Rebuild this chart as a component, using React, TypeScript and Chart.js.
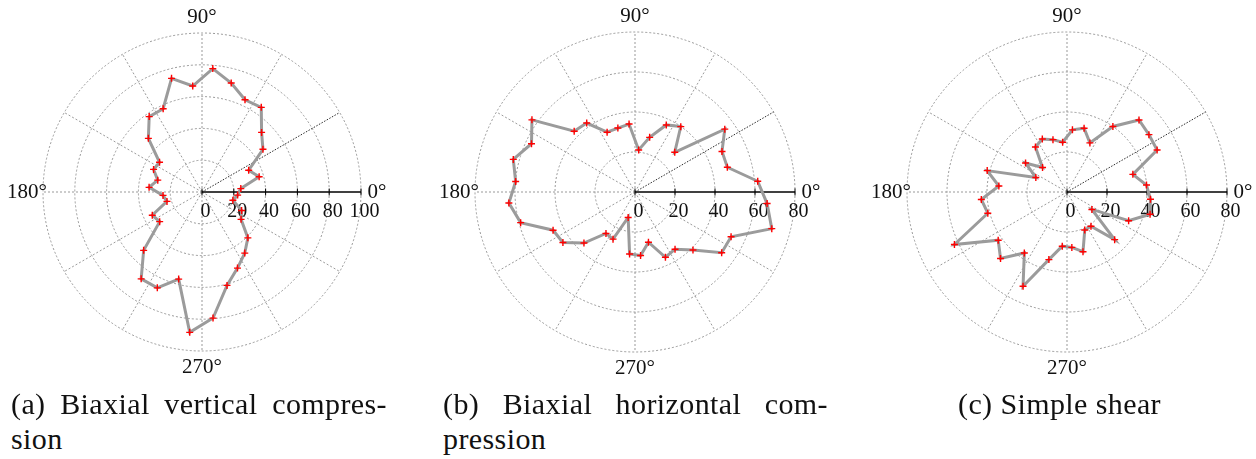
import React, { useEffect, useRef } from 'react';
import { Chart, registerables } from 'chart.js';

Chart.register(...registerables);

// Bin-centre directions (degrees, counter-clockwise from the right)
const binAngles = [5, 15, 25, 35, 45, 55, 65, 75, 85, 95, 105, 115, 125, 135, 145, 155, 165, 175,
  185, 195, 205, 215, 225, 235, 245, 255, 265, 275, 285, 295, 305, 315, 325, 335, 345, 355];

// (a) Biaxial vertical compression
const valuesA = [24.5, 37.2, 32.4, 46.8, 53, 65, 64, 71, 77.9, 66.9, 74, 57.8, 57.9, 47.7, 32.6, 33.6, 28.8, 33.4,
  24.6, 22.8, 34.5, 32.5, 51.9, 66.7, 66.5, 56.7, 88.6, 79.6, 60.8, 52.8, 46.9, 40.8, 30, 27.5, 20.1, 22.5];

// (b) Biaxial horizontal compression
const valuesB = [61.6, 47.8, 48, 54.8, 28.1, 39.9, 37, 28.3, 21.1, 34.1, 33.1, 33, 42.1, 43, 62.9, 57.1, 63, 59.9,
  63.3, 59.2, 45.2, 44, 36.1, 25.3, 26, 13.2, 31.1, 31.9, 26, 36, 34.9, 41, 52.9, 53, 70.8, 66.3];

// (c) Simple shear
const valuesC = [39.9, 34.1, 49.7, 50, 50.9, 40, 27.1, 33, 31.2, 25, 27.1, 29.2, 27.5, 17.3, 25.3, 17.2, 41.3, 34.2,
  43, 41, 62.1, 42, 47, 37.2, 52, 35, 27.2, 27.8, 30.9, 21, 20.9, 33.7, 15.2, 34, 43, 41.9];

const angleTickLabels = ['0°', '90°', '180°', '270°'];
const angleTickValues = [0, 90, 180, 270];
const radialTicksA = [0, 20, 40, 60, 80, 100];
const radialTicksBC = [0, 20, 40, 60, 80];

const captionA = ['(a) Biaxial vertical compres-', 'sion'];
const captionB = ['(b) Biaxial horizontal com-', 'pression'];
const captionC = ['(c) Simple shear'];

// Angular slots every 5 degrees; Chart.js radar goes clockwise, so slot i is at (360 - 5i) deg.
const SLOT_STEP = 5;
const slotAngles: number[] = [];
for (let i = 0; i < 360 / SLOT_STEP; i++) slotAngles.push((360 - i * SLOT_STEP) % 360);
const slotLabels = slotAngles.map((a) => `${a}°`);

function buildData(values: number[]) {
  return slotAngles.map((a) => {
    const k = binAngles.indexOf(a);
    return k >= 0 ? values[k] : null;
  });
}

const SERIF = '"Liberation Serif", "Times New Roman", Tinos, "DejaVu Serif", "Noto Serif", FreeSerif, serif';

type PanelProps = {
  left: number;
  width: number;
  height: number;
  cx: number;
  cy: number;
  R: number;
  max: number;
  ticks: number[];
  values: number[];
};

function Panel({ left, width, height, cx, cy, R, max, ticks, values }: PanelProps) {
  const ref = useRef<HTMLCanvasElement | null>(null);
  useEffect(() => {
    const canvas = ref.current;
    if (!canvas) return;
    const axisPlugin = {
      id: 'polarAxis',
      beforeDatasetsDraw(chart: any) {
        const scale = chart.scales.r;
        const ctx = chart.ctx;
        ctx.save();
        ctx.strokeStyle = '#000';
        ctx.lineWidth = 1;
        ctx.setLineDash([]);
        ctx.fillStyle = '#111';
        ctx.font = `20px ${SERIF}`;
        ctx.textAlign = 'center';
        ctx.textBaseline = 'middle';
        ticks.forEach((v) => {
          const d = scale.getDistanceFromCenterForValue(v);
          const p = scale.getPointPosition(0, d);
          ctx.beginPath();
          ctx.moveTo(p.x, p.y - 3.5);
          ctx.lineTo(p.x, p.y + 3.5);
          ctx.stroke();
          ctx.fillText(String(v), p.x + 3.5, p.y + 20);
        });
        ctx.font = `21px ${SERIF}`;
        angleTickValues.forEach((a, j) => {
          const idx = slotAngles.indexOf(a);
          const p = scale.getPointPosition(idx, scale.drawingArea + 16);
          ctx.fillText(angleTickLabels[j], p.x, p.y);
        });
        ctx.restore();
      },
    };
    const chart = new Chart(canvas, {
      type: 'radar',
      data: {
        labels: slotLabels,
        datasets: [
          {
            data: buildData(values),
            borderColor: '#9b9b9b',
            borderWidth: 3,
            fill: false,
            tension: 0,
            spanGaps: true,
            pointStyle: 'cross',
            pointRadius: 3.5,
            pointBorderColor: '#ff0000',
            pointBackgroundColor: '#ff0000',
            pointBorderWidth: 1.4,
          },
        ],
      },
      options: {
        responsive: false,
        animation: false,
        events: [],
        layout: {
          padding: {
            left: cx - R,
            top: cy - R,
            right: width - cx - R,
            bottom: height - cy - R,
          },
        },
        plugins: { legend: { display: false }, tooltip: { enabled: false }, title: { display: false } },
        scales: {
          r: {
            min: 0,
            max,
            startAngle: 90,
            ticks: { display: false, stepSize: 20 },
            pointLabels: { display: false },
            grid: { circular: true, color: '#8f8f8f', lineWidth: 0.9 },
            border: { dash: [2, 2] },
            angleLines: {
              display: true,
              color: (c: any) => {
                const a = slotAngles[c.index];
                if (a === 0) return '#000';
                if (a === 30) return '#111';
                return a % 30 === 0 ? '#8f8f8f' : 'rgba(0,0,0,0)';
              },
              lineWidth: (c: any) => {
                const a = slotAngles[c.index];
                if (a % 30 !== 0) return 0;
                return a === 0 ? 1.3 : 0.9;
              },
              borderDash: (c: any) => {
                const a = slotAngles[c.index];
                if (a === 0) return [];
                if (a === 30) return [1.5, 1.5];
                return [2, 2];
              },
            },
          },
        },
      },
      plugins: [axisPlugin],
    } as any);
    return () => chart.destroy();
  }, []);
  return (
    <canvas
      ref={ref}
      width={width}
      height={height}
      style={{ position: 'absolute', left, top: 0, width, height }}
    />
  );
}

function Caption({ left, width, lines }: { left: number; width: number; lines: string[] }) {
  return (
    <>
      {lines.map((t, i) => (
        <div
          key={i}
          style={{
            position: 'absolute',
            left,
            top: 389 + i * 35,
            width: i === 0 && lines.length > 1 ? width : undefined,
            whiteSpace: 'nowrap',
            fontFamily: SERIF,
            fontSize: 30,
            lineHeight: '30px',
            letterSpacing: '0.4px',
            color: '#111',
            textAlign: i === 0 && lines.length > 1 ? 'justify' : 'left',
            textAlignLast: i === 0 && lines.length > 1 ? 'justify' : 'auto',
          } as any}
        >
          {t}
        </div>
      ))}
    </>
  );
}

export default function App() {
  return (
    <div
      style={{
        position: 'absolute',
        left: 0,
        top: 0,
        width: 1256,
        height: 459,
        overflow: 'hidden',
        background: '#fff',
      }}
    >
      <Panel left={0} width={418} height={388} cx={202} cy={192} R={159} max={100} ticks={radialTicksA} values={valuesA} />
      <Panel left={418} width={420} height={388} cx={217} cy={192} R={160} max={80} ticks={radialTicksBC} values={valuesB} />
      <Panel left={838} width={418} height={388} cx={229} cy={192} R={160} max={80} ticks={radialTicksBC} values={valuesC} />
      <Caption left={11} width={376} lines={captionA} />
      <Caption left={443} width={385} lines={captionB} />
      <Caption left={958} width={300} lines={captionC} />
    </div>
  );
}
